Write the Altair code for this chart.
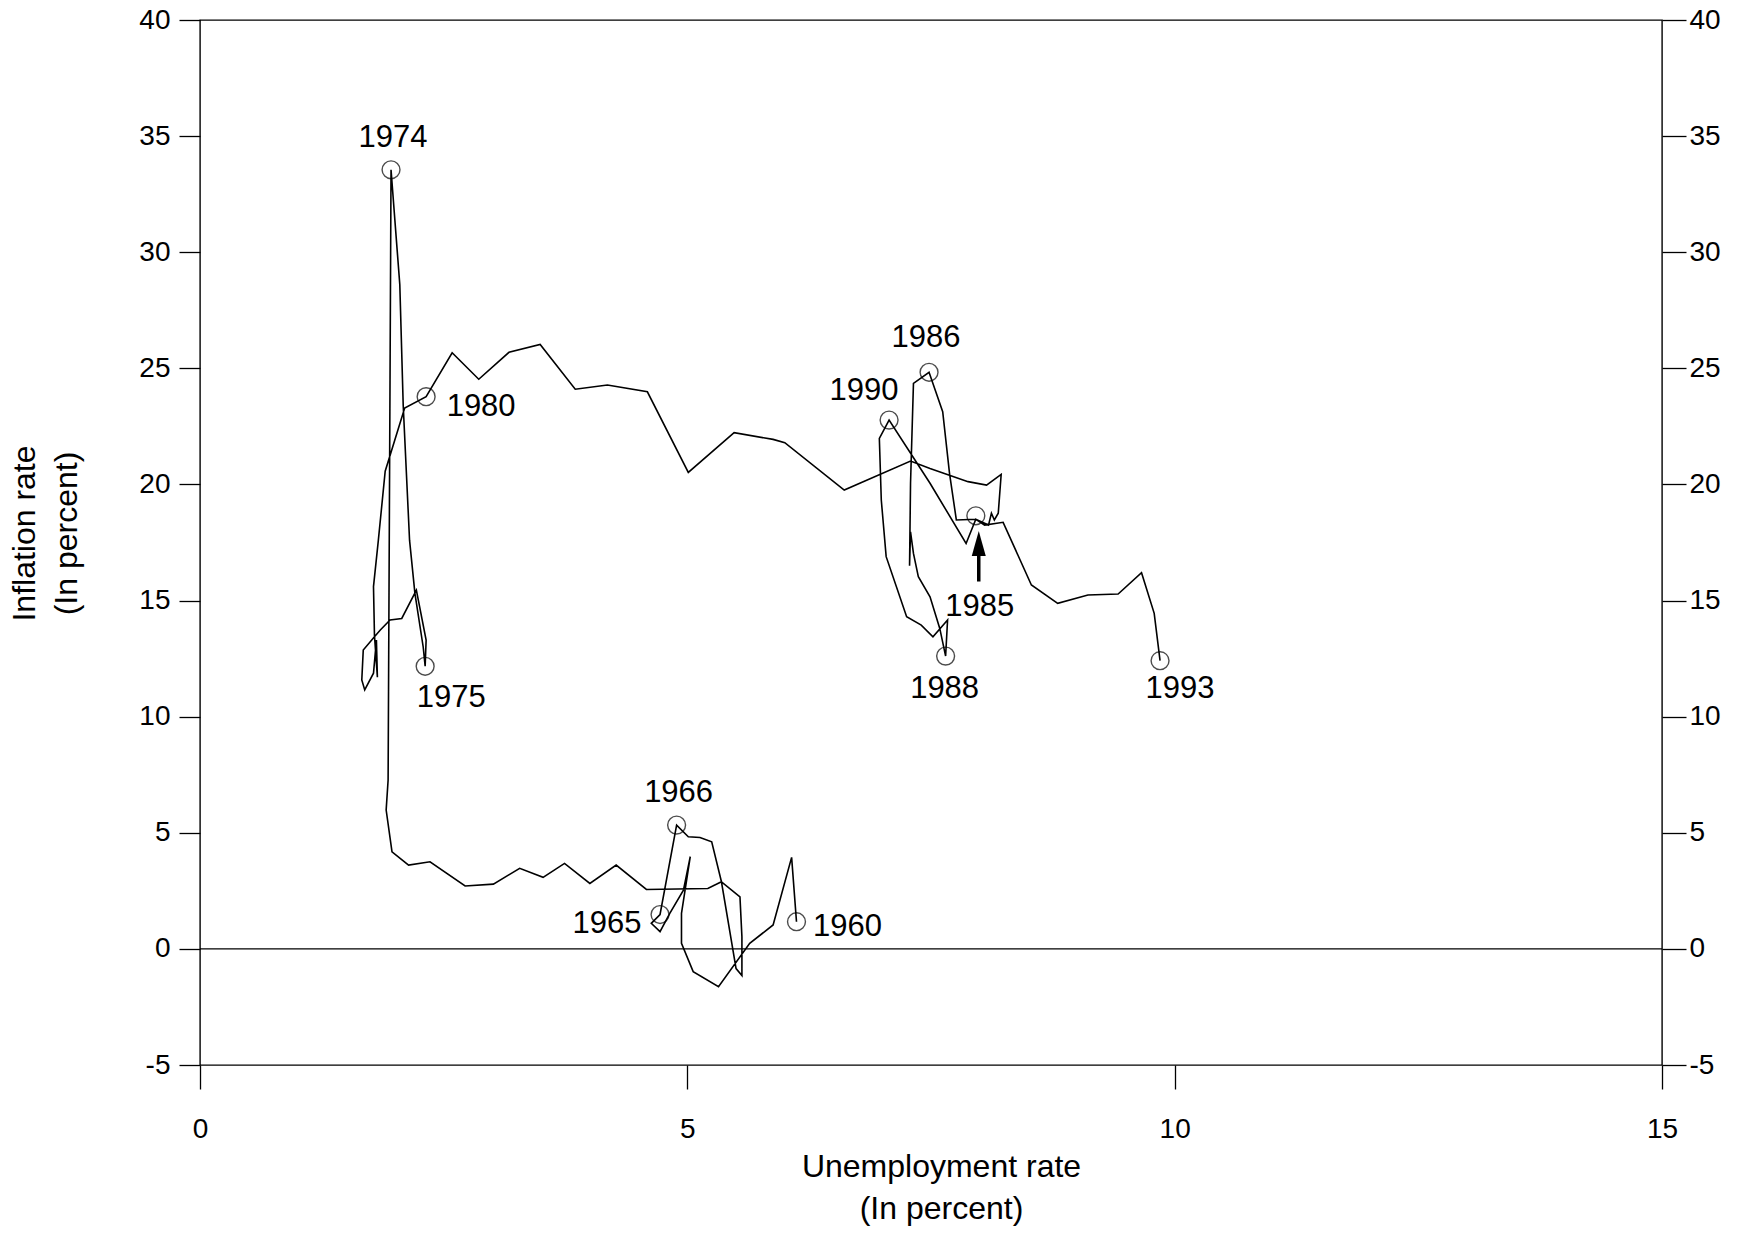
import altair as alt
import pandas as pd

# ---- data (unemployment %, inflation %) ----
UNEMP = [6.12, 6.07, 5.88, 5.64, 5.32, 5.06, 4.94, 4.94, 5.03, 4.96, 4.82, 4.72, 4.63, 4.72,
         4.89, 5.01, 5.13, 5.25, 5.35, 5.54, 5.56, 5.56, 5.50, 5.35, 5.21, 4.58, 4.27, 4.00,
         3.74, 3.52, 3.28, 3.01, 2.72, 2.36, 2.14, 1.97, 1.91, 1.93,
         1.96, 2.05, 2.085, 2.15, 2.205, 2.29, 2.31, 2.32, 2.22, 2.07, 1.95, 1.85, 1.79, 1.675,
         1.66, 1.69, 1.78, 1.81, 1.82, 1.79, 1.78, 1.83, 1.90, 2.10,
         2.32, 2.587, 2.86, 3.17, 3.49, 3.85, 4.18, 4.59, 5.01, 5.48, 5.88, 6.00, 6.61, 7.29,
         7.49, 7.88, 8.07, 8.22, 8.19, 8.15, 8.12, 8.09, 7.96, 7.76, 7.69, 7.62,
         7.48, 7.32, 7.29, 7.28, 7.29, 7.32, 7.37, 7.49, 7.59,
         7.65, 7.67, 7.52, 7.40, 7.25, 7.04, 6.99, 6.97,
         7.07, 7.49, 7.86, 7.96, 8.05, 8.24, 8.53, 8.80, 9.11, 9.42, 9.66, 9.79, 9.85]
INFL = [1.17, 3.94, 1.03, 0.24, -1.63, -0.98, 0.24, 1.53, 3.97, 2.53, 1.53, 0.74, 1.10, 1.48,
        5.33, 4.83, 4.80, 4.61, 2.89, 2.24, 0.52, -1.15, -0.85, 2.89, 2.60, 2.56, 3.61, 2.82,
        3.68, 3.08, 3.47, 2.79, 2.71, 3.75, 3.61, 4.18, 5.98, 7.27,
        33.55, 28.6, 23.4, 17.6, 15.31, 13.0, 12.17, 13.3, 15.45, 14.23, 14.16, 13.73, 13.44, 12.87,
        11.58, 11.15, 11.87, 13.3, 11.7, 13.5, 15.6, 17.6, 20.57, 23.29,
        23.78, 25.67, 24.53, 25.69, 26.03, 24.10, 24.28, 23.99, 20.52, 22.23, 21.94, 21.80, 19.76, 21.01,
        20.69, 20.12, 19.97, 20.43, 18.76, 18.47, 18.76, 18.25, 18.5, 18.47, 20.48, 23.13,
        24.83, 24.35, 20.05, 16.5, 17.96, 17.03, 16.03, 15.16, 13.8,
        12.61, 14.16, 13.44, 13.94, 14.30, 16.89, 19.33, 21.98,
        22.77, 20.05, 17.46, 18.5, 18.25, 18.37, 15.67, 14.88, 15.24, 15.28, 16.20, 14.45, 12.41]

MARK_YEARS = ["1960", "1965", "1966", "1974", "1975", "1980", "1985", "1986", "1988", "1990", "1993"]
MARK_U = [6.12, 4.72, 4.89, 1.96, 2.31, 2.32, 7.96, 7.48, 7.65, 7.07, 9.85]
MARK_I = [1.17, 1.48, 5.33, 33.55, 12.17, 23.78, 18.65, 24.83, 12.61, 22.77, 12.41]

ARROW_U = [7.99, 7.99]
ARROW_I = [15.82, 17.0]
ARROW_HEAD_I = [17.46]

X_TICKS = [0, 5, 10, 15]
Y_TICKS = [-5, 0, 5, 10, 15, 20, 25, 30, 35, 40]

# label offsets in pixels (style)
LABEL_OFFSETS = {
    "1960": (51, 5), "1965": (-53, 9), "1966": (2, -32), "1974": (2, -32),
    "1975": (26, 32), "1980": (55, 10), "1985": (4, 91), "1986": (-3, -34),
    "1988": (-1, 33), "1990": (-25, -29), "1993": (20, 28),
}

W, H = 1462, 1045
FONT = "Liberation Sans"

xs = alt.Scale(domain=[0, 15], nice=False, zero=False)
ys = alt.Scale(domain=[-5, 40], nice=False, zero=False)

common_axis = dict(grid=False, domain=False, tickColor="black", tickWidth=1.3,
                   labelFont=FONT, labelFontSize=28, labelColor="black", labelFlush=False,
                   titleFont=FONT, titleFontSize=32, titleFontWeight="normal", titleColor="black",
                   labelExpr="'' + datum.value")

x_axis = alt.Axis(values=X_TICKS, title=["Unemployment rate", "(In percent)"],
                  tickSize=24, labelPadding=26, titlePadding=8, titleLineHeight=42,
                  titleX=741, **common_axis)
y_left = alt.Axis(values=Y_TICKS, title=["Inflation rate", "(In percent)"], orient="left",
                  tickSize=21, labelPadding=9, titlePadding=55, titleLineHeight=42,
                  titleY=513, **common_axis)
y_right = alt.Axis(values=Y_TICKS, title=None, orient="right", tickSize=24, labelPadding=3,
                   **common_axis)

X_ENC = alt.X("u:Q", scale=xs, axis=x_axis)

path_df = pd.DataFrame({"u": UNEMP, "p": INFL, "i": list(range(len(UNEMP)))})
mark_df = pd.DataFrame({"year": MARK_YEARS, "u": MARK_U, "p": MARK_I})

path = alt.Chart(path_df).mark_line(color="black", strokeWidth=1.6).encode(
    x=X_ENC,
    y=alt.Y("p:Q", scale=ys, axis=y_left),
    order="i:Q",
)

zero = alt.Chart(pd.DataFrame({"p": [0]})).mark_rule(color="black", strokeWidth=1.4).encode(
    y=alt.Y("p:Q", scale=ys, axis=y_right),
)

circles = alt.Chart(mark_df).mark_point(shape="circle", size=320, filled=False,
                                        color="black", strokeWidth=1.4).encode(
    x=X_ENC,
    y=alt.Y("p:Q", scale=ys, axis=None),
)

labels = []
for yr, (dx, dy) in LABEL_OFFSETS.items():
    labels.append(
        alt.Chart(mark_df[mark_df.year == yr]).mark_text(
            font=FONT, fontSize=31, color="black", dx=dx, dy=dy,
            align="center", baseline="middle").encode(
            x=X_ENC,
            y=alt.Y("p:Q", scale=ys, axis=None),
            text="year:N",
        )
    )

arrow_df = pd.DataFrame({"u": ARROW_U, "p": ARROW_I})
shaft = alt.Chart(arrow_df).mark_line(color="black", strokeWidth=3.5).encode(
    x=X_ENC,
    y=alt.Y("p:Q", scale=ys, axis=None),
)
head = alt.Chart(pd.DataFrame({"u": ARROW_U[:1], "p": ARROW_HEAD_I})).mark_point(
    shape="M0,-1L0.56,1L-0.56,1Z", size=625, filled=True, color="black", opacity=1).encode(
    x=X_ENC,
    y=alt.Y("p:Q", scale=ys, axis=None),
)

chart = alt.layer(path, zero, circles, shaft, head, *labels).resolve_scale(
    y="independent"
).properties(
    width=W, height=H,
    autosize=alt.AutoSizeParams(type="none"),
    padding={"left": 200, "top": 20, "right": 91, "bottom": 168},
    background="white",
).configure_view(stroke="black", strokeWidth=1.4)

chart.save("out.html", embed_options={"renderer": "svg", "actions": False})
